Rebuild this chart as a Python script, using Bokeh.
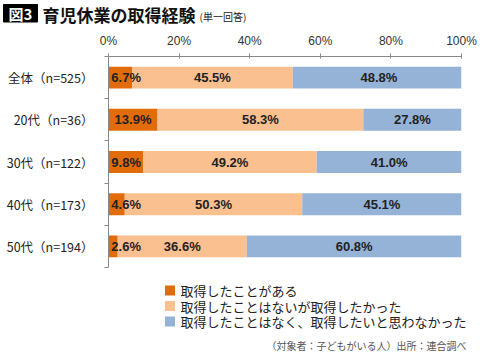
from bokeh.plotting import figure
from bokeh.models import ColumnDataSource, FixedTicker, Range1d
from bokeh.layouts import column, row
from bokeh.core.properties import value
from bokeh.embed import file_html
from bokeh.resources import INLINE

categories = ["全体（n=525）", "20代（n=36）", "30代（n=122）", "40代（n=173）", "50代（n=194）"]
took = [6.7, 13.9, 9.8, 4.6, 2.6]
wanted = [45.5, 58.3, 49.2, 50.3, 36.6]
not_wanted = [48.8, 27.8, 41.0, 45.1, 60.8]
series_names = ["取得したことがある", "取得したことはないが取得したかった", "取得したことはなく、取得したいと思わなかった"]
colors = ["#E36C0A", "#FAC090", "#95B3D7"]
x_ticks = [0, 20, 40, 60, 80, 100]
title_text = "育児休業の取得経験"
fig_no = "図3"
subtitle = "(単一回答)"
source_note = "（対象者：子どもがいる人）出所：連合調べ"

W = 485
JP = "Noto Sans CJK JP"

# ---------- title strip ----------
TH = 30
pt = figure(width=W, height=TH, output_backend="svg", toolbar_location=None,
            x_range=Range1d(0, W), y_range=Range1d(TH, 0), min_border=0)
pt.axis.visible = False
pt.grid.visible = False
pt.outline_line_color = None
pt.quad(left=[3], right=[37], top=[4], bottom=[21.5], color="black")
pt.text(x=[20], y=[13], text=[fig_no], text_align="center", text_baseline="middle",
        text_font=value(JP), text_font_style="bold", text_font_size="15px", text_color="white")
pt.text(x=[42], y=[13.5], text=[title_text], text_align="left", text_baseline="middle",
        text_font=value(JP), text_font_style="bold", text_font_size="17px", text_color="#111111")
pt.text(x=[199], y=[16], text=[subtitle], text_align="left", text_baseline="middle",
        text_font=value(JP), text_font_size="10px", text_color="#222222")

# ---------- main chart ----------
n = len(categories)
ypos = [n - i - 0.5 for i in range(n)]
src = ColumnDataSource(dict(y=ypos, a=took, b=wanted, c=not_wanted))

MH = 240
p = figure(width=W, height=MH, output_backend="svg", toolbar_location=None,
           x_range=Range1d(0, 100), y_range=Range1d(0, n),
           x_axis_location="above",
           min_border_left=108, min_border_right=24, min_border_top=23, min_border_bottom=3)
p.outline_line_color = None
p.xgrid.visible = False
p.ygrid.visible = False

rs = p.hbar_stack(["a", "b", "c"], y="y", height=0.52, color=colors, line_color=None, source=src)

lab_x, lab_y, lab_t = [], [], []
for i in range(n):
    a, b, c = took[i], wanted[i], not_wanted[i]
    lab_x += [max(a / 2, 5.0), a + b / 2, a + b + c / 2]
    lab_y += [ypos[i]] * 3
    lab_t += [f"{a:.1f}%", f"{b:.1f}%", f"{c:.1f}%"]
p.text(x=lab_x, y=lab_y, text=lab_t, text_align="center", text_baseline="middle",
       text_font=value("Liberation Sans"), text_font_style="bold", text_font_size="13px",
       text_color="#222222")

xa = p.xaxis[0]
xa.ticker = FixedTicker(ticks=x_ticks)
xa.major_label_overrides = {t: f"{t}%" for t in x_ticks}
xa.axis_line_color = "#888888"
xa.major_tick_line_color = "#888888"
xa.major_tick_in = 2
xa.major_tick_out = 3
xa.minor_tick_line_color = None
xa.major_label_text_font = "Liberation Sans"
xa.major_label_text_font_size = "12px"
xa.major_label_text_color = "#333333"
xa.major_label_standoff = 6

ya = p.yaxis[0]
ya.ticker = FixedTicker(ticks=ypos, minor_ticks=list(range(n + 1)))
ya.major_label_overrides = {y: c for y, c in zip(ypos, categories)}
ya.axis_line_color = "#888888"
ya.major_tick_line_color = None
ya.major_tick_in = 0
ya.major_tick_out = 0
ya.minor_tick_line_color = "#888888"
ya.minor_tick_in = 0
ya.minor_tick_out = 4
ya.major_label_text_font = JP
ya.major_label_text_font_size = "12.5px"
ya.major_label_text_color = "#222222"
ya.major_label_standoff = 11

# ---------- legend + source strip ----------
BH = 355 - TH - MH
pb = figure(width=W, height=BH, output_backend="svg", toolbar_location=None,
            x_range=Range1d(0, W), y_range=Range1d(BH, 0), min_border=0)
pb.axis.visible = False
pb.grid.visible = False
pb.outline_line_color = None
leg_y = [20 + 15.5 * i for i in range(len(series_names))]
pb.rect(x=[169.5] * 3, y=leg_y, width=10, height=10, color=colors, line_color=None)
pb.text(x=[180] * 3, y=leg_y, text=series_names, text_align="left", text_baseline="middle",
        text_font=value(JP), text_font_size="13px", text_color="#222222")
pb.text(x=[466], y=[75], text=[source_note], text_align="right", text_baseline="middle",
        text_font=value(JP), text_font_size="10px", text_color="#555555")

layout = column(row(pt), row(p), row(pb), spacing=0)
open("out.html", "w").write(file_html(layout, INLINE))
